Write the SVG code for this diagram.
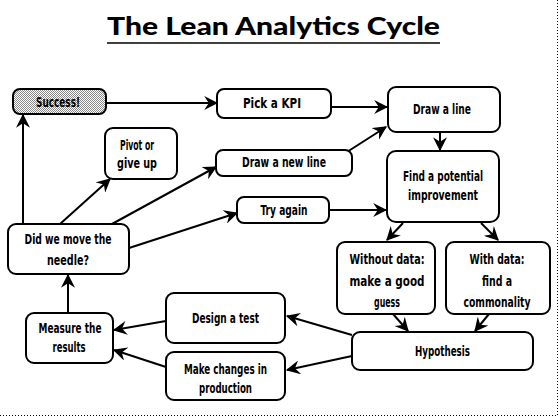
<svg xmlns="http://www.w3.org/2000/svg" width="559" height="420" viewBox="0 0 559 420">
<style>
.box{fill:#fff;stroke:#000;stroke-width:2}
.lbl{font-family:"DejaVu Sans Condensed","DejaVu Sans",sans-serif;font-size:14.5px;font-weight:bold;text-anchor:middle;fill:#000}
.title{font-family:Lato,"DejaVu Sans",sans-serif;font-size:25px;font-weight:900;text-anchor:middle;fill:#000}
.con line{stroke:#000;stroke-width:2;marker-end:url(#arr)}
.frame{stroke:#000;stroke-width:1;stroke-dasharray:1 2;fill:none}
</style>
<defs>
<marker id="arr" viewBox="0 0 12 12" markerUnits="userSpaceOnUse" markerWidth="14" markerHeight="14" refX="11" refY="6" orient="auto">
<path d="M0,0 L12,6 L0,12 L4,6 z" fill="#000"/>
</marker>
<pattern id="dither" width="2" height="2" patternUnits="userSpaceOnUse">
<rect width="2" height="2" fill="#fff"/>
<rect width="1" height="1" fill="#8a8a8a"/>
<rect x="1" y="1" width="1" height="1" fill="#8a8a8a"/>
</pattern>
</defs>
<rect width="559" height="420" fill="#fff"/>
<path class="frame" d="M557.5,0 V415.5 H0"/>
<g id="title">
<text class="title" x="273.5" y="35" textLength="333" lengthAdjust="spacingAndGlyphs">The Lean Analytics Cycle</text>
<line x1="107" y1="43" x2="440" y2="43" stroke="#000" stroke-width="1.5"/>
</g>
<g class="con" id="connectors">
<line x1="106" y1="103" x2="217" y2="103"/>
<line x1="331" y1="107" x2="387" y2="107"/>
<line x1="347" y1="152" x2="386" y2="127"/>
<line x1="440" y1="132" x2="440" y2="150"/>
<line x1="330" y1="210" x2="386" y2="210"/>
<line x1="403" y1="223" x2="387" y2="240"/>
<line x1="481" y1="223" x2="498" y2="240"/>
<line x1="393" y1="314" x2="408" y2="331"/>
<line x1="489" y1="314" x2="475" y2="331"/>
<line x1="352" y1="335" x2="287" y2="316"/>
<line x1="352" y1="356" x2="287" y2="370"/>
<line x1="166" y1="321" x2="114" y2="330"/>
<line x1="166" y1="367" x2="114" y2="350"/>
<line x1="68" y1="313" x2="68" y2="275"/>
<line x1="23" y1="224" x2="23" y2="115"/>
<line x1="60" y1="224" x2="110" y2="179"/>
<line x1="112" y1="224" x2="216" y2="167"/>
<line x1="129" y1="248" x2="237" y2="213"/>
</g>
<g id="success"><rect x="13" y="89" width="93" height="25" rx="7" fill="url(#dither)" stroke="#000" stroke-width="2"/>
<text class="lbl" x="58" y="107" textLength="44" lengthAdjust="spacingAndGlyphs">Success!</text></g>
<g id="pick-kpi"><rect class="box" x="217" y="89" width="114" height="29" rx="7"/>
<text class="lbl" x="272" y="108" textLength="58" lengthAdjust="spacingAndGlyphs">Pick a KPI</text></g>
<g id="draw-line"><rect class="box" x="388" y="87" width="112" height="45" rx="8"/>
<text class="lbl" x="442" y="114" textLength="58" lengthAdjust="spacingAndGlyphs">Draw a line</text></g>
<g id="pivot"><rect class="box" x="105" y="128" width="72" height="51" rx="8"/>
<text class="lbl" x="137" y="150" textLength="34" lengthAdjust="spacingAndGlyphs">Pivot or</text>
<text class="lbl" x="137" y="168" textLength="40" lengthAdjust="spacingAndGlyphs">give up</text></g>
<g id="draw-new-line"><rect class="box" x="216" y="150" width="136" height="26" rx="7"/>
<text class="lbl" x="284" y="167" textLength="84" lengthAdjust="spacingAndGlyphs">Draw a new line</text></g>
<g id="find"><rect class="box" x="387" y="151" width="112" height="71" rx="9"/>
<text class="lbl" x="443" y="181" textLength="80" lengthAdjust="spacingAndGlyphs">Find a potential</text>
<text class="lbl" x="443" y="200" textLength="70" lengthAdjust="spacingAndGlyphs">improvement</text></g>
<g id="try-again"><rect class="box" x="237" y="197" width="92" height="26" rx="7"/>
<text class="lbl" x="284" y="215" textLength="47" lengthAdjust="spacingAndGlyphs">Try again</text></g>
<g id="did-we-move"><rect class="box" x="8" y="224" width="121" height="50" rx="8"/>
<text class="lbl" x="68" y="244" textLength="87" lengthAdjust="spacingAndGlyphs">Did we move the</text>
<text class="lbl" x="68" y="265" textLength="42" lengthAdjust="spacingAndGlyphs">needle?</text></g>
<g id="without-data"><rect class="box" x="337" y="242" width="98" height="72" rx="8"/>
<text class="lbl" x="387" y="264" textLength="75" lengthAdjust="spacingAndGlyphs">Without data:</text>
<text class="lbl" x="387" y="286" textLength="75" lengthAdjust="spacingAndGlyphs">make a good</text>
<text class="lbl" x="387" y="307" textLength="26" lengthAdjust="spacingAndGlyphs">guess</text></g>
<g id="with-data"><rect class="box" x="446" y="242" width="104" height="72" rx="8"/>
<text class="lbl" x="497" y="264" textLength="55" lengthAdjust="spacingAndGlyphs">With data:</text>
<text class="lbl" x="497" y="286" textLength="30" lengthAdjust="spacingAndGlyphs">find a</text>
<text class="lbl" x="497" y="307" textLength="67" lengthAdjust="spacingAndGlyphs">commonality</text></g>
<g id="measure"><rect class="box" x="26" y="313" width="87" height="50" rx="8"/>
<text class="lbl" x="70" y="333" textLength="63" lengthAdjust="spacingAndGlyphs">Measure the</text>
<text class="lbl" x="69" y="352" textLength="33" lengthAdjust="spacingAndGlyphs">results</text></g>
<g id="design-test"><rect class="box" x="166" y="293" width="119" height="50" rx="8"/>
<text class="lbl" x="225.5" y="323" textLength="67" lengthAdjust="spacingAndGlyphs">Design a test</text></g>
<g id="make-changes"><rect class="box" x="166" y="352" width="119" height="48" rx="8"/>
<text class="lbl" x="225.5" y="374" textLength="83" lengthAdjust="spacingAndGlyphs">Make changes in</text>
<text class="lbl" x="225.5" y="393" textLength="53" lengthAdjust="spacingAndGlyphs">production</text></g>
<g id="hypothesis"><rect class="box" x="352" y="332" width="181" height="38" rx="8"/>
<text class="lbl" x="442.5" y="356" textLength="55" lengthAdjust="spacingAndGlyphs">Hypothesis</text></g>
</svg>
